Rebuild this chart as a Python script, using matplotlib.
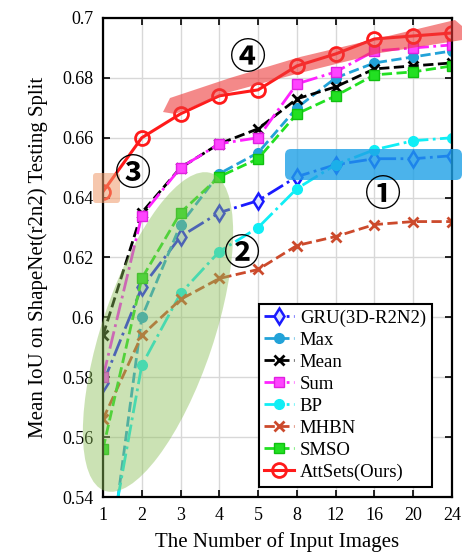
import matplotlib
matplotlib.use("Agg")
import matplotlib.pyplot as plt
import numpy as np
from matplotlib.patches import Ellipse, Polygon, FancyBboxPatch

# number of input images (categorical axis)
views = [1, 2, 3, 4, 5, 8, 12, 16, 20, 24]

gru = [0.578, 0.610, 0.627, 0.635, 0.639, 0.647, 0.651, 0.653, 0.653, 0.654]
max_pool = [0.502, 0.600, 0.631, 0.648, 0.655, 0.670, 0.680, 0.685, 0.687, 0.689]
mean_pool = [0.594, 0.635, 0.650, 0.658, 0.663, 0.673, 0.677, 0.683, 0.684, 0.685]
sum_pool = [0.580, 0.634, 0.650, 0.658, 0.660, 0.678, 0.682, 0.689, 0.690, 0.691]
bp = [0.512, 0.584, 0.608, 0.622, 0.630, 0.643, 0.651, 0.656, 0.659, 0.660]
mhbn = [0.566, 0.594, 0.606, 0.613, 0.616, 0.624, 0.627, 0.631, 0.632, 0.632]
smso = [0.556, 0.613, 0.635, 0.647, 0.653, 0.668, 0.674, 0.681, 0.682, 0.684]
attsets = [0.642, 0.660, 0.668, 0.674, 0.676, 0.684, 0.688, 0.693, 0.694, 0.695]

yticks = [0.54, 0.56, 0.58, 0.6, 0.62, 0.64, 0.66, 0.68, 0.7]

serif = ["Liberation Serif", "DejaVu Serif"]
plt.rcParams["font.family"] = serif

W, H = 463, 557
fig = plt.figure(figsize=(W / 100, H / 100), dpi=100)
ax = fig.add_axes([103 / W, 1 - 497 / H, (452 - 103) / W, (497 - 18) / H])

xs = np.arange(len(views))

ax.plot(xs, gru, '-.', color='#1a1aff', lw=2, marker='d', ms=8, mfc='#dde4ff', mec='#1a1aff', mew=1.8, label='GRU(3D-R2N2)')
ax.plot(xs, max_pool, '--', color='#22a2d8', lw=2, marker='o', ms=7, mfc='#22a2d8', mec='#22a2d8', label='Max')
ax.plot(xs, mean_pool, '--', color='black', lw=2, marker='x', ms=7, mew=2, label='Mean')
ax.plot(xs, sum_pool, '-.', color='#ff22ff', lw=2, marker='s', ms=7, mfc='#ff44ff', mec='#e020e0', label='Sum')
ax.plot(xs, bp, '-.', color='#10eef5', lw=2, marker='o', ms=7, mfc='#10eef5', mec='#10eef5', label='BP')
ax.plot(xs, mhbn, '--', color='#cc4a2c', lw=2, marker='x', ms=7, mew=2, label='MHBN')
ax.plot(xs, smso, '--', color='#22e022', lw=2, marker='s', ms=7, mfc='#22e022', mec='#10c010', label='SMSO')
ax.plot(xs, attsets, '-', color='#ff1a1a', lw=2.2, marker='o', ms=10, mfc='none', mec='#ff1a1a', mew=2, label='AttSets(Ours)')

ax.set_xlim(0, len(views) - 1)
ax.set_ylim(0.54, 0.7)
ax.set_xticks(xs)
ax.set_xticklabels([str(v) for v in views])
ax.set_yticks(yticks)
ax.set_yticklabels(['%g' % t for t in yticks])
ax.tick_params(direction='in', top=True, right=True, length=5, width=1.2, labelsize=13, pad=7)
ax.grid(True, color='#d8d8d8', lw=1)
for s in ax.spines.values():
    s.set_linewidth(1.6)

ax.set_xlabel('The Number of Input Images', fontsize=15, labelpad=6)
ax.set_ylabel('Mean IoU on ShapeNet(r2n2) Testing Split', fontsize=15, labelpad=10)

# highlight overlays, placed in pixel space (inches from bottom-left)
tr = fig.dpi_scale_trans


def px(x, y):
    return (x / 100, (H - y) / 100)


green = Ellipse(px(158, 332), width=3.35, height=1.12, angle=71.5, transform=tr,
                facecolor='#8dc05a', alpha=0.45, edgecolor='none', clip_on=False, zorder=3)
ax.add_artist(green)

blue = FancyBboxPatch(px(285, 180), (462 - 285) / 100, (180 - 149) / 100,
                      boxstyle='round,pad=0,rounding_size=0.06', transform=tr,
                      facecolor='#1ea0e6', alpha=0.8, edgecolor='none', clip_on=False, zorder=3)
ax.add_artist(blue)

band_pts = [px(163, 112), px(170, 98), px(230, 78), px(300, 57), px(380, 38), px(455, 20),
            px(462, 26), px(462, 40), px(380, 53), px(300, 73), px(230, 92), px(175, 114)]
red = Polygon(band_pts, closed=True, transform=tr, facecolor='#ee3a3a', alpha=0.6,
              edgecolor='none', clip_on=False, zorder=3)
ax.add_artist(red)

orange = FancyBboxPatch(px(93, 203), 0.27, 0.30, boxstyle='round,pad=0,rounding_size=0.03',
                        transform=tr, facecolor='#f09a6a', alpha=0.55, edgecolor='none',
                        clip_on=False, zorder=3)
ax.add_artist(orange)

circ_font = ['Noto Sans CJK SC', 'DejaVu Sans']
for label, (cx, cy) in [('①', (383, 195)), ('②', (242, 254)), ('③', (133, 174)), ('④', (248, 59))]:
    fig.text(cx / W, 1 - cy / H, label, fontsize=26, family=circ_font, weight='bold',
             ha='center', va='center', zorder=6)

leg = ax.legend(loc='lower right', bbox_to_anchor=((441 - 103) / (452 - 103), (497 - 496) / (497 - 18)),
                fontsize=13.5, frameon=True, fancybox=False, edgecolor='black', framealpha=1,
                handlelength=1.6, handletextpad=0.3, labelspacing=0.26, borderpad=0.3)
leg.get_frame().set_linewidth(1.5)
leg.set_zorder(5)

fig.savefig('out.png', dpi=100)
